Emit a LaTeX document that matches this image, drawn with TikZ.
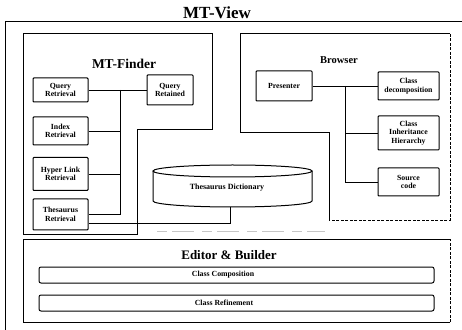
\documentclass[tikz,border=0pt]{standalone}
\usepackage{fontspec}
\setmainfont{Liberation Serif}
\usetikzlibrary{calc}
\begin{document}
\begin{tikzpicture}[x=1pt,y=1pt,
  frame/.style={line width=1pt},
  part/.style={draw, line width=1pt, rounded corners=0.8pt, align=center,
    inner sep=1pt, font=\bfseries\fontsize{7.8}{8.6}\selectfont},
  wire/.style={line width=0.75pt},
  bar/.style={draw, line width=1pt, rounded corners=2pt,
    minimum width=395pt, minimum height=16pt},
  heading/.style={font=\bfseries\fontsize{#1}{#1}\selectfont},
  broken/.style={line width=0.9pt, dash pattern=on 3pt off 1.5pt}]
\useasboundingbox (0,0) rectangle (462,329);
\clip (0,0) rectangle (462,329);

% outer frame and title
\node[heading=17] (title) at (217,316) {MT-View};
\draw[frame] (475,307) -- (5,307) -- (5,-10);

% MT-Finder container
\draw[frame] (23,295) -- (212,295) -- (212,199) -- (137,199) -- (137,94) -- (23,94) -- cycle;
\node[heading=13.5] (finder) at (124,265) {MT-Finder};

\node[part, minimum width=55pt, minimum height=24pt] (qret) at (60.5,239) {Query\\Retrieval};
\node[part, minimum width=46pt, minimum height=30pt] (qkeep) at (170,239) {Query\\Retained};
\node[part, minimum width=55pt, minimum height=28pt] (index) at (60.5,198) {Index\\Retrieval};
\node[part, minimum width=55pt, minimum height=33pt] (hyper) at (60.5,155) {Hyper Link\\Retrieval};
\node[part, minimum width=55pt, minimum height=31pt] (thes) at (60.5,114.5) {Thesaurus\\Retrieval};
\coordinate (fbus) at (120,0);

\draw[wire] (qret.east) -- (qkeep.west);
\draw[wire] (qret.east -| fbus) -- (thes.east -| fbus) -- (thes.east);
\draw[wire] (index.east) -- (index.east -| fbus);
\draw[wire] (hyper.east) -- (hyper.east -| fbus);

% thesaurus dictionary store
\draw[frame, fill=white] (153,158) -- (153,128)
  arc[start angle=180, end angle=360, x radius=79.5, y radius=6] -- (312,158);
\draw[frame] (232.5,158) ellipse[x radius=79.5, y radius=6];
\node[font=\bfseries\fontsize{8}{9}\selectfont] (dict) at (227,141) {Thesaurus Dictionary};
\coordinate (dictbot) at (230,122);
\draw[wire] ($(thes.east)+(0,-8.5)$) -| (dictbot);
\draw[gray!45, line width=0.6pt, dash pattern=on 10pt off 5pt on 22pt off 8pt] (157,98) -- (325,98);

% Browser container
\draw[frame] (329,109) -- (329,196) -- (240,196) -- (240,295) -- (450,295);
\draw[broken] (450,295) -- (450,109) -- (329,109);
\node[heading=10.5] (browser) at (339,269) {Browser};

\node[part, minimum width=56pt, minimum height=30pt] (pres) at (284,243) {Presenter};
\node[part, minimum width=61pt, minimum height=28pt] (cdec) at (408.5,243) {Class\\decomposition};
\node[part, minimum width=61pt, minimum height=34pt] (cinh) at (408.5,196) {Class\\Inheritance\\Hierarchy};
\node[part, minimum width=61pt, minimum height=28pt] (src) at (408.5,147) {Source\\code};
\coordinate (bbus) at (345,0);

\draw[wire] (pres.east) -- (cdec.west);
\draw[wire] (pres.east -| bbus) -- (src.west -| bbus) -- (src.west);
\draw[wire] (cinh.west -| bbus) -- (cinh.west);

% Editor & Builder
\draw[frame] (450,90) -- (23,90) -- (23,7) -- (450,7);
\draw[broken] (450,7) -- (450,90);
\node[heading=13] (editor) at (229,74) {Editor \& Builder};
\node[bar] (ccomp) at (236.5,54) {};
\node[bar] (cref) at (236.5,26) {};
\node[font=\bfseries\fontsize{7.8}{8.6}\selectfont] (ccompt) at (223,54) {Class Composition};
\node[font=\bfseries\fontsize{7.8}{8.6}\selectfont] (creft) at (224,26) {Class Refinement};
\end{tikzpicture}
\end{document}
